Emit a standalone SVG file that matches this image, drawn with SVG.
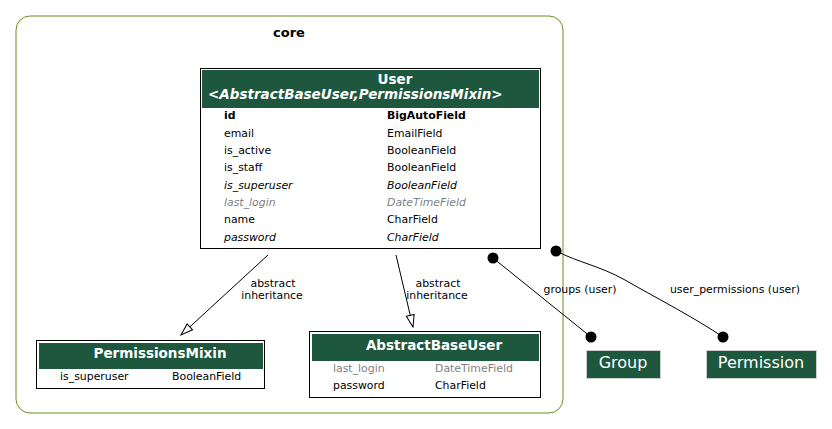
<svg xmlns="http://www.w3.org/2000/svg" width="832" height="429" viewBox="0 0 832 429">
<defs>
<style>
text{font-family:"DejaVu Sans",sans-serif;fill:#000}
.row{font-size:10.9px}
.hd{font-size:13.5px;font-weight:bold;fill:#fff}
.gray{fill:#7f7f7f}
.it{font-style:italic}
.b{font-weight:bold}
.box{fill:#fff;stroke:#000;stroke-width:1}
.head{fill:#1d573d}
.ext{fill:#1d573d;stroke:#cfcfcf;stroke-width:1}
.ext-t{font-size:16px;fill:#fff}
.edge{fill:none;stroke:#000;stroke-width:1}
.lbl{font-size:10.9px}
</style>
<marker id="tri" markerWidth="14" markerHeight="12" refX="13" refY="5" orient="auto" markerUnits="userSpaceOnUse">
<path d="M1,1 L13,5 L1,9 Z" fill="#fff" stroke="#000" stroke-width="1"/>
</marker>
</defs>
<rect width="832" height="429" fill="#fff"/>
<g id="cluster-core">
<rect x="16" y="16" width="547" height="397" rx="14" fill="none" stroke="#6b8e23" stroke-width="1"/>
<text x="289" y="37" text-anchor="middle" font-size="13" font-weight="bold">core</text>
</g>
<g id="connectors">
<path class="edge" d="M268,255 L181,335" marker-end="url(#tri)"/>
<text class="lbl" x="273" y="287" text-anchor="middle">abstract</text>
<text class="lbl" x="272" y="299" text-anchor="middle">inheritance</text>
<path class="edge" d="M396,255 L413,327" marker-end="url(#tri)"/>
<text class="lbl" x="438" y="287" text-anchor="middle">abstract</text>
<text class="lbl" x="437" y="299" text-anchor="middle">inheritance</text>
<path class="edge" d="M493,258 L591,337"/>
<circle cx="493" cy="258" r="5.5"/>
<circle cx="591" cy="337" r="5.5"/>
<text class="lbl" x="580" y="293" text-anchor="middle">groups (user)</text>
<path class="edge" d="M556,251 C580,263 600,266 625,280 C660,300 695,318 723,337"/>
<circle cx="556" cy="251" r="5.5"/>
<circle cx="723" cy="337" r="5.5"/>
<text class="lbl" x="735" y="293" text-anchor="middle">user_permissions (user)</text>
</g>
<g id="node-User">
<rect class="box" x="200.5" y="68.5" width="340" height="180"/>
<rect class="head" x="202" y="70" width="337" height="38"/>
<text class="hd" x="395" y="83.5" text-anchor="middle">User</text>
<text class="hd it" x="208" y="98.5">&lt;AbstractBaseUser,PermissionsMixin&gt;</text>
<text class="row b" x="224" y="119">id</text><text class="row b" x="387" y="119">BigAutoField</text>
<text class="row" x="224" y="137">email</text><text class="row" x="387" y="137">EmailField</text>
<text class="row" x="224" y="154">is_active</text><text class="row" x="387" y="154">BooleanField</text>
<text class="row" x="224" y="171">is_staff</text><text class="row" x="387" y="171">BooleanField</text>
<text class="row it" x="224" y="189">is_superuser</text><text class="row it" x="387" y="189">BooleanField</text>
<text class="row it gray" x="224" y="206">last_login</text><text class="row it gray" x="387" y="206">DateTimeField</text>
<text class="row" x="224" y="223">name</text><text class="row" x="387" y="223">CharField</text>
<text class="row it" x="224" y="241">password</text><text class="row it" x="387" y="241">CharField</text>
</g>
<g id="node-PermissionsMixin">
<rect class="box" x="36.5" y="340.5" width="228" height="48"/>
<rect class="head" x="39" y="343" width="224" height="26"/>
<text class="hd" x="160" y="358" text-anchor="middle">PermissionsMixin</text>
<text class="row" x="60" y="380">is_superuser</text><text class="row" x="172" y="380">BooleanField</text>
</g>
<g id="node-AbstractBaseUser">
<rect class="box" x="309.5" y="331.5" width="231" height="66"/>
<rect class="head" x="312" y="334" width="227" height="27"/>
<text class="hd" x="434" y="350" text-anchor="middle">AbstractBaseUser</text>
<text class="row gray" x="333" y="372">last_login</text><text class="row gray" x="435" y="372">DateTimeField</text>
<text class="row" x="333" y="389">password</text><text class="row" x="435" y="389">CharField</text>
</g>
<g id="node-Group">
<rect class="ext" x="586.5" y="350.5" width="74" height="28"/>
<text class="ext-t" x="623" y="368" text-anchor="middle">Group</text>
</g>
<g id="node-Permission">
<rect class="ext" x="706.5" y="350.5" width="110" height="28"/>
<text class="ext-t" x="761" y="368" text-anchor="middle">Permission</text>
</g>
</svg>
